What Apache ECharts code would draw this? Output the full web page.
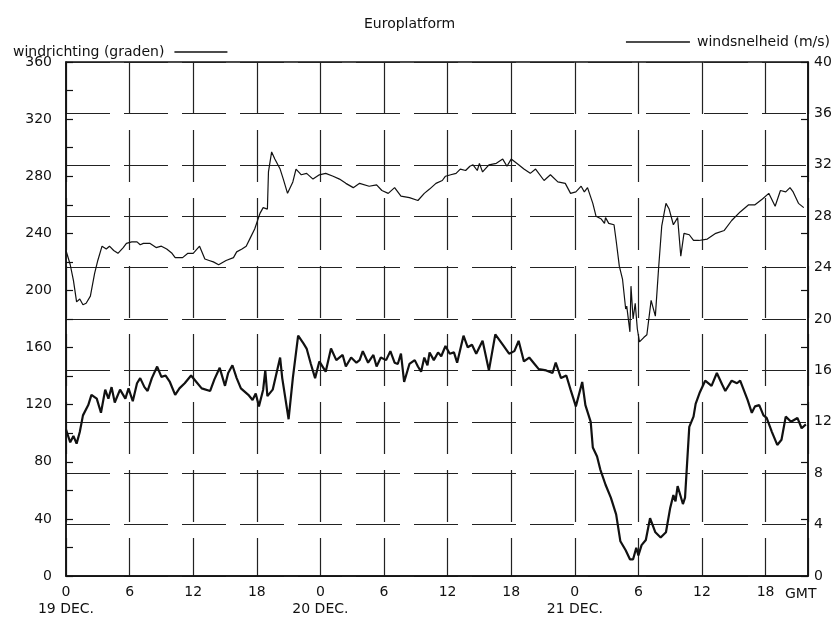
<!DOCTYPE html>
<html>
<head>
<meta charset="utf-8">
<title>Europlatform</title>
<script src="https://cdn.jsdelivr.net/npm/echarts@6/dist/echarts.min.js"></script>
<style>
  html, body { margin: 0; padding: 0; background: #fff; }
  #chart { width: 835px; height: 618px; }
</style>
</head>
<body>
<div id="chart"></div>
<script>
// uren vanaf 19 dec 00 GMT
var dirHours = [0.0, 0.4, 0.7, 1.0, 1.3, 1.6, 1.9, 2.3, 2.7, 3.0, 3.4, 3.8, 4.1, 4.5, 4.9, 5.4, 5.7, 6.2, 6.7, 7.0,
  7.3, 7.9, 8.5, 9.0, 9.5, 10.0, 10.3, 11.0, 11.5, 12.0, 12.6, 13.1, 13.5, 13.9, 14.4, 15.1, 15.8, 16.1, 16.6, 17.0,
  17.4, 17.8, 18.3, 18.6, 19.0, 19.1, 19.4, 19.7, 20.2, 20.5, 20.9, 21.4, 21.7, 22.2, 22.7, 23.3, 23.9, 24.5, 25.2, 25.8,
  26.4, 27.1, 27.7, 28.6, 29.3, 29.8, 30.4, 31.0, 31.6, 32.4, 33.2, 33.8, 34.3, 34.9, 35.5, 35.8, 36.3, 36.8, 37.2, 37.7,
  38.1, 38.4, 38.8, 39.0, 39.3, 39.9, 40.6, 41.2, 41.6, 42.0, 42.7, 43.2, 43.8, 44.3, 45.1, 45.7, 46.4, 47.1, 47.6, 48.1,
  48.6, 48.9, 49.2, 49.7, 50.0, 50.5, 50.8, 50.9, 51.2, 51.7, 51.9, 52.2, 52.5, 52.8, 52.9, 53.2, 53.3, 53.5, 53.7, 53.9,
  54.1, 54.5, 54.8, 55.2, 55.6, 55.9, 56.2, 56.6, 56.9, 57.3, 57.7, 58.0, 58.3, 58.8, 59.2, 59.7, 60.5, 61.3, 62.1, 62.8,
  63.6, 64.4, 65.0, 65.7, 66.3, 66.9, 67.4, 67.9, 68.3, 68.6, 69.1, 69.6]
var dirValues = [228, 218, 207, 192, 194, 190, 191, 196, 212, 221, 231, 229, 231, 228, 226, 230, 233, 234, 234, 232,
  233, 233, 230, 231, 229, 226, 223, 223, 226, 226, 231, 222, 221, 220, 218, 221, 223, 227, 229, 231,
  237, 243, 254, 258, 257, 283, 297, 292, 285, 278, 268, 276, 285, 281, 282, 278, 281, 282, 280, 278,
  275, 272, 275, 273, 274, 270, 268, 272, 266, 265, 263, 268, 271, 275, 277, 280, 281, 282, 285, 284,
  287, 288, 284, 289, 283, 288, 289, 292, 287, 292, 288, 285, 282, 285, 277, 281, 276, 275, 268, 269,
  273, 269, 272, 261, 252, 250, 247, 251, 247, 246, 235, 217, 208, 187, 189, 171, 203, 180, 191, 173,
  164, 167, 169, 193, 182, 215, 245, 261, 257, 246, 251, 224, 240, 239, 235, 235, 236, 240, 242, 249,
  255, 260, 260, 264, 268, 259, 270, 269, 272, 269, 261, 258]

var speedHours = [0.0, 0.4, 0.7, 1.0, 1.3, 1.6, 2.1, 2.4, 2.9, 3.3, 3.7, 4.0, 4.3, 4.6, 5.1, 5.6, 5.9, 6.3, 6.7, 7.0,
  7.4, 7.7, 8.1, 8.6, 9.0, 9.4, 9.8, 10.3, 10.7, 11.2, 11.8, 12.3, 12.8, 13.6, 14.0, 14.5, 15.0, 15.3, 15.7, 16.1,
  16.5, 17.2, 17.6, 17.9, 18.2, 18.6, 18.8, 19.0, 19.5, 20.2, 20.4, 21.0, 21.4, 21.9, 22.4, 22.7, 23.1, 23.5, 23.9, 24.5,
  25.0, 25.5, 26.1, 26.4, 26.9, 27.4, 27.7, 28.0, 28.5, 29.0, 29.3, 29.7, 30.2, 30.6, 31.0, 31.3, 31.6, 31.9, 32.4, 32.9,
  33.2, 33.5, 33.8, 34.1, 34.3, 34.7, 35.1, 35.4, 35.8, 36.2, 36.6, 36.9, 37.5, 37.9, 38.3, 38.7, 39.3, 39.9, 40.5, 41.2,
  41.8, 42.3, 42.7, 43.2, 43.7, 44.2, 44.6, 45.3, 45.9, 46.2, 46.7, 47.2, 47.6, 48.1, 48.7, 49.0, 49.5, 49.7, 50.1, 50.4,
  50.9, 51.4, 51.9, 52.3, 52.8, 53.2, 53.5, 53.8, 54.0, 54.3, 54.7, 55.1, 55.6, 56.1, 56.6, 57.0, 57.3, 57.5, 57.7, 58.2,
  58.4, 58.8, 59.2, 59.4, 59.8, 60.3, 60.9, 61.4, 61.9, 62.2, 62.8, 63.3, 63.6, 64.3, 64.7, 65.0, 65.4, 65.8, 66.1, 66.6,
  67.1, 67.5, 67.9, 68.4, 69.0, 69.4, 69.8]
var speedValues = [11.4, 10.4, 10.9, 10.3, 11.2, 12.5, 13.3, 14.1, 13.8, 12.7, 14.5, 13.8, 14.7, 13.5, 14.5, 13.8, 14.6, 13.6, 15.0, 15.4,
  14.7, 14.4, 15.4, 16.3, 15.5, 15.6, 15.1, 14.1, 14.6, 15.0, 15.6, 15.1, 14.6, 14.4, 15.3, 16.2, 14.8, 15.8, 16.4, 15.4,
  14.6, 14.1, 13.7, 14.2, 13.2, 14.5, 16.0, 14.0, 14.5, 17.0, 15.4, 12.2, 15.4, 18.7, 18.1, 17.7, 16.5, 15.4, 16.7, 15.9,
  17.7, 16.8, 17.2, 16.3, 17.0, 16.6, 16.8, 17.5, 16.6, 17.2, 16.3, 17.0, 16.8, 17.5, 16.6, 16.5, 17.3, 15.1, 16.5, 16.8,
  16.3, 15.9, 17.0, 16.4, 17.4, 16.8, 17.4, 17.1, 17.9, 17.3, 17.4, 16.6, 18.7, 17.8, 18.0, 17.3, 18.3, 16.0, 18.8, 18.0,
  17.3, 17.5, 18.3, 16.7, 17.0, 16.5, 16.1, 16.0, 15.8, 16.6, 15.4, 15.6, 14.5, 13.2, 15.1, 13.3, 12.0, 10.0, 9.3, 8.3,
  7.1, 6.1, 4.8, 2.7, 2.0, 1.3, 1.3, 2.2, 1.6, 2.4, 2.8, 4.5, 3.4, 3.0, 3.4, 5.3, 6.3, 5.8, 7.0, 5.6,
  6.1, 11.6, 12.4, 13.4, 14.3, 15.2, 14.8, 15.8, 14.9, 14.4, 15.2, 15.0, 15.2, 13.7, 12.7, 13.2, 13.3, 12.5, 12.3, 11.2,
  10.2, 10.6, 12.4, 12.0, 12.3, 11.5, 11.8]

var dateLabels = { 0: '19 DEC.', 24: '20 DEC.', 48: '21 DEC.' }

function pairs(xs, ys) {
  var out = []
  for (var i = 0; i < xs.length; i++) {
    out.push([xs[i], ys[i]])
  }
  return out
}

var font = 'DejaVu Sans'
var ink = '#111'

var chart = echarts.init(document.getElementById('chart'))
var option = {
  backgroundColor: '#fff',
  animation: false,
  textStyle: { fontFamily: font, color: ink },
  title: {
    text: 'Europlatform',
    left: 359,
    top: 12,
    textStyle: { fontFamily: font, fontSize: 14, fontWeight: 'normal', color: ink }
  },
  legend: [
    {
      data: ['windrichting (graden)'],
      left: 8,
      top: 40,
      align: 'right',
      icon: 'rect',
      itemWidth: 53,
      itemHeight: 1.3,
      itemStyle: { color: ink },
      textStyle: { fontFamily: font, fontSize: 14, color: ink, padding: [0, 5, 0, 0] }
    },
    {
      data: ['windsnelheid (m/s)'],
      right: 0,
      top: 30,
      align: 'left',
      icon: 'rect',
      itemWidth: 64,
      itemHeight: 1.3,
      itemStyle: { color: ink },
      textStyle: { fontFamily: font, fontSize: 14, color: ink, padding: [0, 0, 0, 2] }
    }
  ],
  grid: {
    left: 66,
    right: 27,
    top: 62,
    bottom: 39,
    show: true,
    borderColor: ink,
    borderWidth: 1.5
  },
  xAxis: {
    type: 'value',
    min: 0,
    max: 70,
    interval: 6,
    axisLine: { show: true, lineStyle: { color: ink, width: 1.5 } },
    axisTick: { show: false },
    axisLabel: {
      fontFamily: font,
      fontSize: 14,
      color: ink,
      margin: 8,
      lineHeight: 17,
      formatter: function(v) {
        if (v > 66) return ''
        var s = String(v % 24)
        if (dateLabels[v]) s += '\n' + dateLabels[v]
        return s
      }
    },
    splitLine: {
      show: true,
      lineStyle: { color: '#222', width: 1.2, type: [52, 16] }
    }
  },
  yAxis: [
    {
      type: 'value',
      position: 'left',
      min: 0,
      max: 360,
      interval: 20,
      axisLine: { show: true, lineStyle: { color: ink, width: 1.5 } },
      axisTick: { show: true, inside: true, length: 7, lineStyle: { color: ink, width: 1.2 } },
      axisLabel: {
        fontFamily: font,
        fontSize: 14,
        color: ink,
        margin: 14,
        formatter: function(v) {
          return v % 40 === 0 ? String(v) : ''
        }
      },
      splitLine: { show: false }
    },
    {
      type: 'value',
      position: 'right',
      min: 0,
      max: 40,
      interval: 4,
      axisLine: { show: true, lineStyle: { color: ink, width: 1.5 } },
      axisTick: { show: false },
      axisLabel: { fontFamily: font, fontSize: 14, color: ink, margin: 6 },
      splitLine: {
        show: true,
        lineStyle: { color: '#222', width: 1.2, type: [44, 14] }
      }
    },
    {
      // korte streepjes rechts op de gradenschaal
      type: 'value',
      position: 'right',
      min: 0,
      max: 360,
      interval: 40,
      axisLine: { show: false },
      axisTick: { show: true, inside: true, length: 7, lineStyle: { color: ink, width: 1.2 } },
      axisLabel: { show: false },
      splitLine: { show: false }
    }
  ],
  graphic: [
    {
      type: 'text',
      left: 785,
      top: 587,
      style: { text: 'GMT', fontFamily: font, fontSize: 14, fill: ink }
    }
  ],
  series: [
    {
      name: 'windrichting (graden)',
      type: 'line',
      yAxisIndex: 0,
      symbol: 'none',
      data: pairs(dirHours, dirValues),
      lineStyle: { color: ink, width: 1.2 },
      itemStyle: { color: ink }
    },
    {
      name: 'windsnelheid (m/s)',
      type: 'line',
      yAxisIndex: 1,
      symbol: 'none',
      data: pairs(speedHours, speedValues),
      lineStyle: { color: ink, width: 2.2 },
      itemStyle: { color: ink }
    }
  ]
}
chart.setOption(option, true)
</script>
</body>
</html>
